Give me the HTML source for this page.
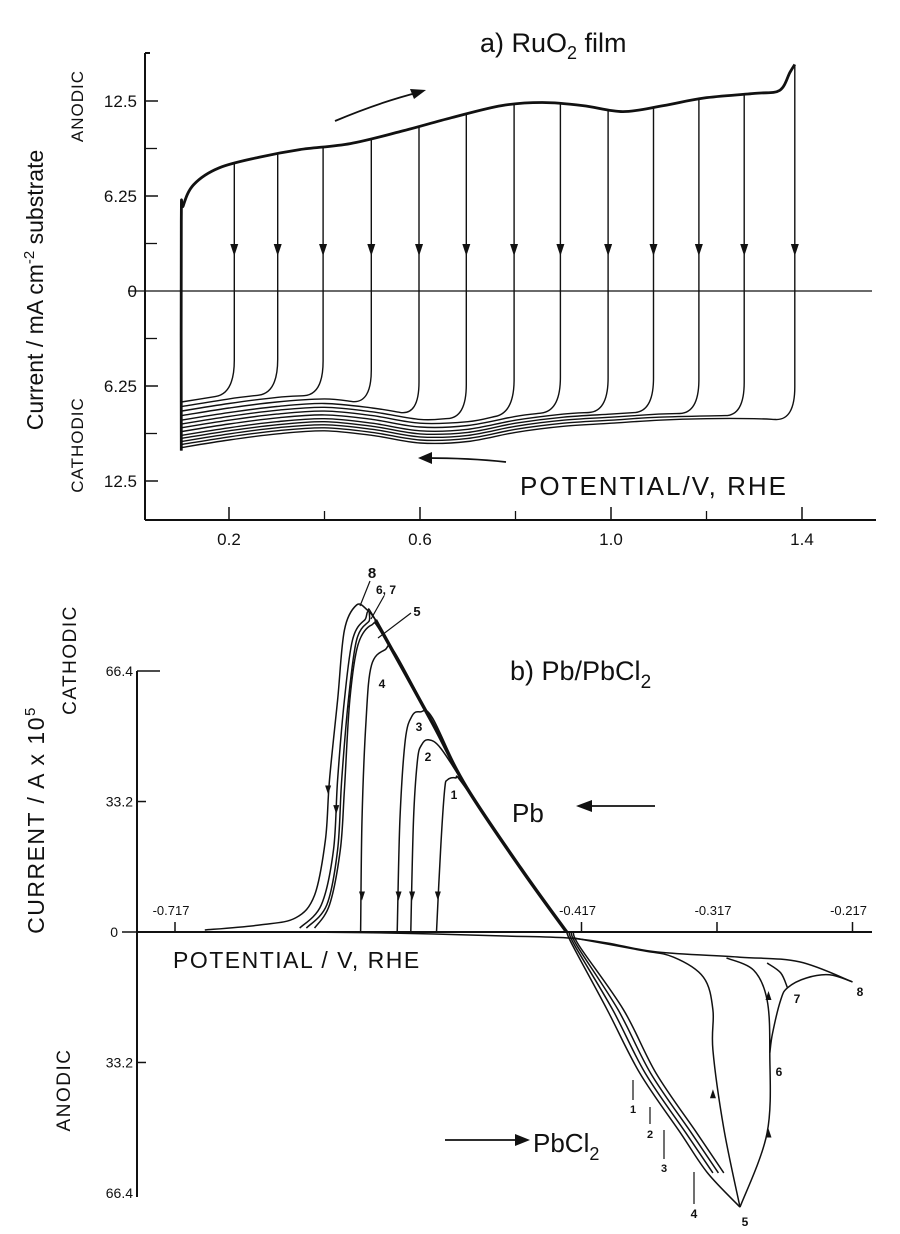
<!DOCTYPE html>
<html><head><meta charset="utf-8">
<style>
html,body{margin:0;padding:0;background:#fff;}
svg{display:block;font-family:"Liberation Sans",sans-serif;}
</style></head>
<body>
<svg id="fig" width="900" height="1234" viewBox="0 0 900 1234" xmlns="http://www.w3.org/2000/svg">
<g id="pa"></g>
<g id="pb"></g>
</svg>
<script>
// ---------- Panel a data ----------
const aTickV = [0.2, 0.6, 1.0, 1.4];
const aTickLabels = ["0.2", "0.6", "1.0", "1.4"];
const aYTickI = [12.5, 6.25, 0, -6.25, -12.5];
const aYTickLabels = ["12.5", "6.25", "0", "6.25", "12.5"];
const outerV = [0.100, 0.100, 0.104, 0.126, 0.179, 0.263, 0.348, 0.454, 0.560, 0.666, 0.771, 0.856, 0.941, 1.025, 1.110, 1.195, 1.301, 1.353, 1.375, 1.385];
const outerI = [-10.5, 4.6, 5.6, 7.0, 8.1, 8.8, 9.3, 9.7, 10.5, 11.4, 12.2, 12.4, 12.2, 11.8, 12.2, 12.7, 13.0, 13.2, 14.4, 14.9];
const revV = [0.211, 0.302, 0.397, 0.498, 0.598, 0.697, 0.797, 0.894, 0.994, 1.089, 1.184, 1.279, 1.385];
const revOffset = [3.0, 2.7, 2.4, 2.1, 1.8, 1.55, 1.3, 1.05, 0.8, 0.6, 0.4, 0.2, 0.0];
const cathV = [0.10, 0.20, 0.30, 0.40, 0.50, 0.60, 0.70, 0.80, 0.90, 1.00, 1.10, 1.20, 1.30, 1.385];
const cathI = [-10.3, -9.8, -9.4, -9.2, -9.5, -10.0, -9.9, -9.3, -8.9, -8.7, -8.5, -8.4, -8.4, -8.5];

// ---------- Panel b data ----------
const bTickV = [-0.717, -0.417, -0.317, -0.217];
const bTickLabels = ["-0.717", "-0.417", "-0.317", "-0.217"];
const bYTickI = [66.4, 33.2, 0, -33.2, -66.4];
const bYTickLabels = ["66.4", "33.2", "0", "33.2", "66.4"];
const commonDesc = [[-0.569,79.4],[-0.527,53.2],[-0.502,36.9],[-0.462,16.3],[-0.428,0]];
const anodicMain = [[-0.428,0],[-0.423,-3.8],[-0.398,-19.8],[-0.374,-35.9],[-0.344,-51.1],[-0.324,-61.3],[-0.300,-70.0]];
const c8 = [[-0.695,0.5],[-0.654,1.8],[-0.628,3.6],[-0.614,9.4],[-0.606,23.4],[-0.603,38.7],[-0.597,59.0],[-0.592,76.8],[-0.583,83.2],[-0.575,81.9]];
const c6 = [[-0.625,1.0],[-0.609,6.9],[-0.600,20.9],[-0.597,38.7],[-0.592,59.0],[-0.586,74.3],[-0.577,79.4]];
const c7 = [[-0.620,1.0],[-0.605,6.9],[-0.597,20.9],[-0.594,38.7],[-0.589,59.0],[-0.583,74.3],[-0.574,79.0]];
const c5 = [[-0.614,1.0],[-0.603,6.9],[-0.595,20.9],[-0.592,36.1],[-0.588,59.0],[-0.582,73.0],[-0.572,78.1],[-0.564,75.8]];
const c4 = [[-0.580,0],[-0.579,28.5],[-0.576,54.0],[-0.572,67.9],[-0.562,71.8],[-0.555,71.2]];
const c3 = [[-0.553,0],[-0.551,28.5],[-0.547,48.9],[-0.542,55.0],[-0.536,56.0],[-0.527,54.5]];
const c2 = [[-0.543,0],[-0.541,28.5],[-0.538,43.8],[-0.535,47.6],[-0.530,48.9],[-0.521,46.8]];
const c1 = [[-0.524,0],[-0.521,20.9],[-0.518,36.1],[-0.516,38.7],[-0.510,39.2],[-0.504,37.4]];
const ret5 = [[-0.300,-70.0],[-0.312,-50.0],[-0.320,-30.0],[-0.320,-19.8],[-0.327,-11.5],[-0.349,-6.4],[-0.374,-4.6],[-0.423,-1.5]];
const ret6 = [[-0.300,-70.0],[-0.280,-51.1],[-0.278,-30.8],[-0.280,-17.3],[-0.290,-9.7],[-0.310,-6.6]];
const br7 = [[-0.278,-30.8],[-0.276,-25.7],[-0.270,-17.3],[-0.265,-14.2],[-0.251,-11.7],[-0.234,-10.9],[-0.217,-12.7]];
const loop7 = [[-0.265,-14.2],[-0.270,-10.4],[-0.280,-7.9]];
const topLine = [[-0.217,-12.7],[-0.256,-7.6],[-0.300,-6.4],[-0.361,-5.1],[-0.398,-2.8],[-0.428,-1.5],[-0.477,-1.0],[-0.551,-0.3],[-0.625,0]];
const anodicOffsets = [0.004, 0.008, 0.012];

const NS = "http://www.w3.org/2000/svg";
function mk(parent, tag, attrs, text){
  const e = document.createElementNS(NS, tag);
  for (const k in attrs) e.setAttribute(k, attrs[k]);
  if (text !== undefined) e.textContent = text;
  parent.appendChild(e);
  return e;
}
function smooth(p){
  let d = "M" + p[0][0].toFixed(1) + "," + p[0][1].toFixed(1);
  for (let i = 0; i < p.length - 1; i++){
    const p0 = p[i-1] || p[i], p1 = p[i], p2 = p[i+1], p3 = p[i+2] || p2;
    const c1x = p1[0] + (p2[0]-p0[0])/6, c1y = p1[1] + (p2[1]-p0[1])/6;
    const c2x = p2[0] - (p3[0]-p1[0])/6, c2y = p2[1] - (p3[1]-p1[1])/6;
    d += " C" + c1x.toFixed(1) + "," + c1y.toFixed(1) + " " + c2x.toFixed(1) + "," + c2y.toFixed(1) + " " + p2[0].toFixed(1) + "," + p2[1].toFixed(1);
  }
  return d;
}
function interp(xs, ys, x){
  if (x <= xs[0]) return ys[0];
  for (let i = 1; i < xs.length; i++){
    if (x <= xs[i]) { const t = (x - xs[i-1])/(xs[i]-xs[i-1]); return ys[i-1] + t*(ys[i]-ys[i-1]); }
  }
  return ys[ys.length-1];
}

// ================= Panel a =================
const pa = document.getElementById('pa');
const ax = v => 229 + (v - 0.2) * 477.5;
const ay = i => 291 - i * 15.2;

let e;
e = mk(pa, 'line', {x1:145, y1:53, x2:145, y2:520, stroke:'#111', 'stroke-width':2});


e = mk(pa, 'line', {x1:145, y1:53, x2:150, y2:53, stroke:'#111', 'stroke-width':2});


e = mk(pa, 'line', {x1:145, y1:520, x2:876, y2:520, stroke:'#111', 'stroke-width':2});


e = mk(pa, 'line', {x1:128, y1:ay(0), x2:872, y2:ay(0), stroke:'#111', 'stroke-width':1.3});



for (let k = 0; k < aTickV.length; k++){
  e = mk(pa, 'line', {x1:ax(aTickV[k]), y1:520, x2:ax(aTickV[k]), y2:507, stroke:'#111', 'stroke-width':1.5});
  
  
  e = mk(pa, 'text', {x:ax(aTickV[k]), y:545, 'font-size':17, 'text-anchor':'middle', fill:'#111'}, aTickLabels[k]);
  
  
}
for (let k = 0; k < aTickV.length - 1; k++){
  const mv = (aTickV[k] + aTickV[k+1]) / 2;
  e = mk(pa, 'line', {x1:ax(mv), y1:520, x2:ax(mv), y2:511, stroke:'#111', 'stroke-width':1.3});
  
  
}
for (let k = 0; k < aYTickI.length; k++){
  if (aYTickI[k] !== 0){
    e = mk(pa, 'line', {x1:145, y1:ay(aYTickI[k]), x2:158, y2:ay(aYTickI[k]), stroke:'#111', 'stroke-width':1.5});
    
    
  }
  e = mk(pa, 'text', {x:137, y:ay(aYTickI[k]) + 6, 'font-size':17, 'text-anchor':'end', fill:'#111'}, aYTickLabels[k]);
  
  
  if (k < aYTickI.length - 1){
    const mi = (aYTickI[k] + aYTickI[k+1]) / 2;
    e = mk(pa, 'line', {x1:145, y1:ay(mi), x2:157, y2:ay(mi), stroke:'#111', 'stroke-width':1.3});
    
    
  }
}

// outer anodic envelope
e = mk(pa, 'path', {d: smooth(outerV.map((v,i)=>[ax(v), ay(outerI[i])])), fill:'none', stroke:'#111', 'stroke-width':2.8});



// reversal traces: vertical drop, rounded corner, then cathodic baseline leftwards
for (let k = 0; k < revV.length; k++){
  const vr = revV[k], off = revOffset[k];
  const top = interp(outerV.slice(2), outerI.slice(2), vr);
  const base = v => interp(cathV, cathI, v) + off;
  const xr = ax(vr);
  const yCornerStart = ay(base(vr) + 2.2);
  const yb = ay(base(vr));
  const v2 = vr - 0.04;
  const rest = [[ax(v2), ay(base(v2))]];
  for (let j = cathV.length - 1; j >= 0; j--){
    if (cathV[j] < vr - 0.08) rest.push([ax(cathV[j]), ay(base(cathV[j]))]);
  }
  let d = `M${xr.toFixed(1)},${ay(top).toFixed(1)} L${xr.toFixed(1)},${yCornerStart.toFixed(1)} Q${xr.toFixed(1)},${yb.toFixed(1)} ${rest[0][0].toFixed(1)},${rest[0][1].toFixed(1)}`;
  if (rest.length > 1){
    const s = smooth(rest);
    d += s.substring(s.indexOf(' C'));
  }
  e = mk(pa, 'path', {d: d, fill:'none', stroke:'#111', 'stroke-width':1.4});
  
  
  const ya = ay(2.3);
  e = mk(pa, 'path', {d:`M${xr-4},${ya-12} L${xr+4},${ya-12} L${xr},${ya} Z`, fill:'#111'});
  
  
}
e = mk(pa, 'line', {x1:ax(0.1), y1:ay(-10.5), x2:ax(0.1), y2:ay(-6.5), stroke:'#111', 'stroke-width':2});



// scan arrows
e = mk(pa, 'path', {d:'M335,121 Q380,102 420,92', fill:'none', stroke:'#111', 'stroke-width':1.8});


e = mk(pa, 'path', {d:'M426,90 L410,89 L414,99 Z', fill:'#111'});


e = mk(pa, 'path', {d:'M506,462 Q470,458 425,458', fill:'none', stroke:'#111', 'stroke-width':1.8});


e = mk(pa, 'path', {d:'M418,458 L432,452 L432,464 Z', fill:'#111'});



// labels
e = mk(pa, 'text', {x:480, y:52, 'font-size':27, fill:'#111'});
e.innerHTML = 'a) RuO<tspan font-size="18" dy="7">2</tspan><tspan dy="-7"> film</tspan>';


e = mk(pa, 'text', {x:520, y:495, 'font-size':26, fill:'#111', 'letter-spacing':'2'}, 'POTENTIAL/V, RHE');


e = mk(pa, 'text', {x:0, y:0, 'font-size':23, fill:'#111', 'text-anchor':'middle', transform:'translate(43,290) rotate(-90)'});
e.innerHTML = 'Current / mA cm<tspan font-size="15" dy="-9">-2</tspan><tspan dy="9"> substrate</tspan>';


e = mk(pa, 'text', {x:0, y:0, 'font-size':17, fill:'#111', 'text-anchor':'middle', 'letter-spacing':'1', transform:'translate(83,106) rotate(-90)'}, 'ANODIC');


e = mk(pa, 'text', {x:0, y:0, 'font-size':17, fill:'#111', 'text-anchor':'middle', 'letter-spacing':'1', transform:'translate(83,445) rotate(-90)'}, 'CATHODIC');



// ================= Panel b =================
const pb = document.getElementById('pb');
const bx = v => 175 + (v + 0.717) * 1355;
const by = i => 932 - i * 3.93;
const P = arr => arr.map(p => [bx(p[0]), by(p[1])]);

e = mk(pb, 'line', {x1:137, y1:671, x2:137, y2:1197, stroke:'#111', 'stroke-width':2});


e = mk(pb, 'line', {x1:137, y1:932, x2:872, y2:932, stroke:'#111', 'stroke-width':2});


for (let k = 0; k < bTickV.length; k++){
  e = mk(pb, 'line', {x1:bx(bTickV[k]), y1:932, x2:bx(bTickV[k]), y2:922, stroke:'#111', 'stroke-width':1.5});
  
  
  e = mk(pb, 'text', {x:bx(bTickV[k]) - 4, y:915, 'font-size':13, 'text-anchor':'middle', fill:'#111'}, bTickLabels[k]);
  
  
}
for (let k = 0; k < bYTickI.length; k++){
  const v = bYTickI[k];
  let x1 = 137, x2 = 146;
  if (v === 0) { x1 = 122; x2 = 137; }
  if (v === 66.4) { x2 = 160; }
  if (v !== -66.4){
    e = mk(pb, 'line', {x1:x1, y1:by(v), x2:x2, y2:by(v), stroke:'#111', 'stroke-width':1.5});
    
    
  }
  e = mk(pb, 'text', {x:(v === 0 ? 118 : 133), y:by(v) + 5, 'font-size':14, 'text-anchor':'end', fill:'#111'}, bYTickLabels[k]);
  
  
}

function curveB(arr, name, w){
  const el = mk(pb, 'path', {d: smooth(P(arr)), fill:'none', stroke:'#111', 'stroke-width':w || 1.5});
  
  
}
curveB(c8.concat(commonDesc), 'b-cathodic-curve-8');
curveB(c6.concat(commonDesc), 'b-cathodic-curve-6');
curveB(c7.concat(commonDesc), 'b-cathodic-curve-7');
curveB(c5.concat(commonDesc.slice(1)), 'b-cathodic-curve-5');
curveB(c4.concat(commonDesc.slice(1)), 'b-cathodic-curve-4');
curveB(c3.concat(commonDesc.slice(2)), 'b-cathodic-curve-3');
curveB(c2.concat(commonDesc.slice(2)), 'b-cathodic-curve-2');
curveB(c1.concat(commonDesc.slice(3)), 'b-cathodic-curve-1');
curveB(commonDesc, 'b-common-descent', 3.4);
curveB(anodicMain, 'b-anodic-main');
for (let k = 0; k < anodicOffsets.length; k++){
  const o = anodicOffsets[k];
  const arr = anodicMain.slice(0, 6).map((p, j) => [p[0] + (j > 1 ? o : o * 0.4), p[1]]);
  curveB(arr, 'b-anodic-curve-offset');
}
curveB(ret5, 'b-anodic-return-5');
curveB(ret6, 'b-anodic-return-6');
curveB(br7, 'b-anodic-branch-7-8');
curveB(loop7, 'b-anodic-loop-7');
curveB(topLine, 'b-anodic-top-line');

const downArrowV = [-0.604, -0.598, -0.579, -0.552, -0.542, -0.523];
const downArrowI = [35, 30, 8, 8, 8, 8];
for (let k = 0; k < downArrowV.length; k++){
  const x = bx(downArrowV[k]), y = by(downArrowI[k]);
  e = mk(pb, 'path', {d:`M${x-3},${y-9} L${x+3},${y-9} L${x},${y} Z`, fill:'#111'});
  
  
}
const upArrowV = [-0.320, -0.279, -0.279];
const upArrowI = [-40, -50, -15];
for (let k = 0; k < upArrowV.length; k++){
  const x = bx(upArrowV[k]), y = by(upArrowI[k]);
  e = mk(pb, 'path', {d:`M${x-3},${y+9} L${x+3},${y+9} L${x},${y} Z`, fill:'#111'});
  
  
}

const labels = [["8",372,578,15],["6, 7",386,594,12],["5",417,616,13],["4",382,688,12],["3",419,731,12],["2",428,761,12],["1",454,799,12],
                ["1",633,1113,11],["2",650,1138,11],["3",664,1172,11],["4",694,1218,12],["5",745,1226,12],["6",779,1076,12],["7",797,1003,12],["8",860,996,12]];
for (const L of labels){
  e = mk(pb, 'text', {x:L[1], y:L[2], 'font-size':L[3], 'font-weight':'bold', 'text-anchor':'middle', fill:'#111'}, L[0]);
  
  
}
const leaders = [[633,1080,633,1100],[650,1107,650,1124],[664,1130,664,1159],[694,1172,694,1204],[370,581,360,606],[384,596,371,619],[411,613,378,638]];
for (const t of leaders){
  e = mk(pb, 'line', {x1:t[0], y1:t[1], x2:t[2], y2:t[3], stroke:'#111', 'stroke-width':1.2});
  
  
}

e = mk(pb, 'text', {x:510, y:680, 'font-size':27, fill:'#111'});
e.innerHTML = 'b)  Pb/PbCl<tspan font-size="19" dy="8">2</tspan>';


e = mk(pb, 'text', {x:512, y:822, 'font-size':26, fill:'#111'}, 'Pb');


e = mk(pb, 'line', {x1:655, y1:806, x2:585, y2:806, stroke:'#111', 'stroke-width':1.8});


e = mk(pb, 'path', {d:'M576,806 L592,800 L592,812 Z', fill:'#111'});


e = mk(pb, 'line', {x1:445, y1:1140, x2:520, y2:1140, stroke:'#111', 'stroke-width':1.8});


e = mk(pb, 'path', {d:'M530,1140 L515,1134 L515,1146 Z', fill:'#111'});


e = mk(pb, 'text', {x:533, y:1152, 'font-size':26, fill:'#111'});
e.innerHTML = 'PbCl<tspan font-size="18" dy="8">2</tspan>';


e = mk(pb, 'text', {x:173, y:968, 'font-size':23, fill:'#111', 'letter-spacing':'1.5'}, 'POTENTIAL / V, RHE');


e = mk(pb, 'text', {x:0, y:0, 'font-size':23, fill:'#111', 'text-anchor':'middle', 'letter-spacing':'1.5', transform:'translate(44,820) rotate(-90)'});
e.innerHTML = 'CURRENT / A x 10<tspan font-size="15" dy="-9">5</tspan>';


e = mk(pb, 'text', {x:0, y:0, 'font-size':19, fill:'#111', 'text-anchor':'middle', 'letter-spacing':'1.5', transform:'translate(76,660) rotate(-90)'}, 'CATHODIC');


e = mk(pb, 'text', {x:0, y:0, 'font-size':19, fill:'#111', 'text-anchor':'middle', 'letter-spacing':'1.5', transform:'translate(70,1090) rotate(-90)'}, 'ANODIC');


</script>
</body></html>
